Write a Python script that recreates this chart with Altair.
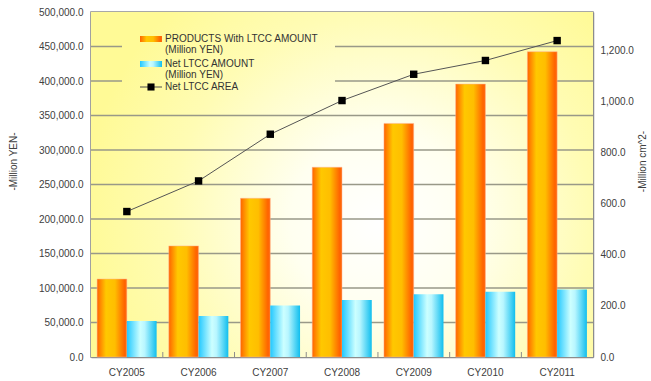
import altair as alt
import pandas as pd

# ---- data -------------------------------------------------------------
categories = ["CY2005", "CY2006", "CY2007", "CY2008", "CY2009", "CY2010", "CY2011"]
products_amount = [113000, 161000, 230000, 275000, 338500, 395500, 442500]   # Million YEN
net_ltcc_amount = [52000, 59500, 74500, 82500, 91000, 94500, 98000]          # Million YEN
net_ltcc_area = [570, 690, 873, 1005, 1108, 1162, 1240]                      # Million cm^2
yen_grid = [50000, 100000, 150000, 200000, 250000, 300000, 350000, 400000, 450000]
yen_ticks = [0, 50000, 100000, 150000, 200000, 250000, 300000, 350000, 400000, 450000, 500000]
area_ticks = [0, 200, 400, 600, 800, 1000, 1200]
tick_cats = categories[1:]

bars = pd.DataFrame({
    "cat": categories * 2,
    "series": ["P"] * len(categories) + ["N"] * len(categories),
    "value": products_amount + net_ltcc_amount,
})
area = pd.DataFrame({"cat": categories, "area": net_ltcc_area})
grid = pd.DataFrame({"v": yen_grid})
ticks = pd.DataFrame({"cat": tick_cats})
one = alt.Data(values=[{"k": 0}])

# ---- layout / style ---------------------------------------------------
W, H = 502, 345
FONT = "Liberation Sans"
TXT = "#404040"
GRID = "#999988"
PAD_IN = 0.17

# radial background: centre and radius in plot pixels
GX, GY, GR = 290, 210, 300
bg_stops = [
    alt.GradientStop(offset=0, color="#ffffff"),
    alt.GradientStop(offset=0.3, color="#fffff0"),
    alt.GradientStop(offset=0.7, color="#fffcb4"),
    alt.GradientStop(offset=1, color="#fffa96"),
]


def radial_fill(bx, by, bw, bh):
    s = max(bw, bh)
    ox = bx + bw / 2 - s / 2
    oy = by + bh / 2 - s / 2
    cx, cy = (GX - ox) / s, (GY - oy) / s
    return alt.RadialGradient(gradient="radial", stops=bg_stops,
                              x1=cx, y1=cy, r1=0, x2=cx, y2=cy, r2=GR / s)


orange_fill = alt.LinearGradient(
    gradient="linear", x1=0, x2=1, y1=0, y2=0,
    stops=[alt.GradientStop(offset=0, color="#ff6400"),
           alt.GradientStop(offset=0.3, color="#ffc800"),
           alt.GradientStop(offset=0.6, color="#ffbe00"),
           alt.GradientStop(offset=0.92, color="#ff6400"),
           alt.GradientStop(offset=1, color="#ff6a10")])
blue_fill = alt.LinearGradient(
    gradient="linear", x1=0, x2=1, y1=0, y2=0,
    stops=[alt.GradientStop(offset=0, color="#22c8ff"),
           alt.GradientStop(offset=0.45, color="#ccffff"),
           alt.GradientStop(offset=0.6, color="#b8f6ff"),
           alt.GradientStop(offset=1, color="#10beee")])

x_scale = alt.Scale(domain=categories, paddingInner=PAD_IN, paddingOuter=PAD_IN / 2)
x_axis = alt.Axis(title=None, labelAngle=0, ticks=False, labelPadding=10,
                  labelFont=FONT, labelFontSize=10, labelColor=TXT,
                  domainColor="#8c8c8c", domainWidth=1.5)
x_enc = alt.X("cat:N", scale=x_scale, axis=x_axis)

yen_scale = alt.Scale(domain=[0, 500000], nice=False, zero=True)
yen_axis = alt.Axis(title="-Million YEN-", values=yen_ticks, format=",.1f",
                    grid=False, ticks=False, labelPadding=8,
                    labelFont=FONT, labelFontSize=10, labelColor=TXT,
                    domainColor="#8c8c8c", domainWidth=1.5,
                    titleFont=FONT, titleFontSize=10, titleFontWeight="normal",
                    titleColor=TXT, titleAngle=270, titleAlign="center",
                    titleBaseline="middle", titleX=-78, titleY=149)

area_scale = alt.Scale(domain=[0, 1352], nice=False, zero=True)
area_axis = alt.Axis(title="-Million cm^2-", orient="right", values=area_ticks,
                     format=",.1f", grid=False, ticks=False, labelPadding=7,
                     labelFont=FONT, labelFontSize=10, labelColor=TXT,
                     domainColor="#8c8c8c", domainWidth=1.5,
                     titleFont=FONT, titleFontSize=10, titleFontWeight="normal",
                     titleColor=TXT, titleAngle=270, titleAlign="center",
                     titleBaseline="middle", titleX=49, titleY=149)

# ---- plot background and grid -----------------------------------------
background = alt.Chart(one).mark_rect(fill=radial_fill(0, 0, W, H)).encode(
    x=alt.value(0), x2=alt.value(W), y=alt.value(0), y2=alt.value(H))

grid_rules = alt.Chart(grid).mark_rule(color=GRID, strokeWidth=1.5).encode(
    y=alt.Y("v:Q", scale=yen_scale, axis=yen_axis))

inner_ticks = alt.Chart(ticks).mark_rule(
    color="#8c8c8c", strokeWidth=1, xOffset=-6).encode(
    x=alt.X("cat:N", scale=x_scale, axis=x_axis, bandPosition=0),
    y=alt.value(H - 5), y2=alt.value(H))

# ---- legend box ---------------------------------------------------------
LBX, LBY, LBW, LBH = 31, 16, 213, 69
legend_bg = alt.Chart(one).mark_rect(fill=radial_fill(LBX, LBY, LBW, LBH)).encode(
    x=alt.value(LBX), x2=alt.value(LBX + LBW), y=alt.value(LBY), y2=alt.value(LBY + LBH))


def legend_text(txt, x, y):
    return alt.Chart(one).mark_text(
        align="left", baseline="middle", font=FONT, fontSize=10, color="#333333"
    ).encode(x=alt.value(x), y=alt.value(y), text=alt.value(txt))


sw_orange = alt.Chart(one).mark_rect(fill=orange_fill).encode(
    x=alt.value(49), x2=alt.value(71), y=alt.value(24), y2=alt.value(30))
sw_blue = alt.Chart(one).mark_rect(fill=blue_fill).encode(
    x=alt.value(49), x2=alt.value(71), y=alt.value(49), y2=alt.value(55))
sw_line = alt.Chart(one).mark_rule(color="#4d4d4d", strokeWidth=1).encode(
    x=alt.value(49), x2=alt.value(71), y=alt.value(75))
sw_point = alt.Chart(one).mark_point(
    shape="square", filled=True, color="black", opacity=1, size=50).encode(
    x=alt.value(60), y=alt.value(75))

legend = [
    legend_bg, sw_orange, sw_blue, sw_line, sw_point,
    legend_text("PRODUCTS With LTCC AMOUNT", 74, 27),
    legend_text("(Million YEN)", 74, 38),
    legend_text("Net LTCC AMOUNT", 74, 52),
    legend_text("(Million YEN)", 74, 63),
    legend_text("Net LTCC AREA", 74, 75),
]

# ---- bars ---------------------------------------------------------------
offset = alt.XOffset("series:N", scale=alt.Scale(domain=["P", "N"]))
y_bar = alt.Y("value:Q", scale=yen_scale, axis=yen_axis)

orange_bars = alt.Chart(bars).transform_filter(alt.datum.series == "P").mark_bar(
    fill=orange_fill, stroke="#ffb090", strokeWidth=0.5).encode(
    x=x_enc, xOffset=offset, y=y_bar)
blue_bars = alt.Chart(bars).transform_filter(alt.datum.series == "N").mark_bar(
    fill=blue_fill).encode(x=x_enc, xOffset=offset, y=y_bar)

left = alt.layer(background, grid_rules, inner_ticks, *legend, orange_bars, blue_bars)

# ---- area line (right axis) --------------------------------------------
y_area = alt.Y("area:Q", scale=area_scale, axis=area_axis)
area_line = alt.Chart(area).mark_line(color="#555555", strokeWidth=1).encode(
    x=x_enc, y=y_area)
area_points = alt.Chart(area).mark_point(
    shape="square", filled=True, color="black", opacity=1, size=55).encode(
    x=x_enc, y=y_area)
right = alt.layer(area_line, area_points)

chart = alt.layer(left, right).resolve_scale(y="independent").properties(
    width=W, height=H,
    padding={"left": 91, "top": 12, "right": 58, "bottom": 24},
    autosize=alt.AutoSizeParams(type="none"),
    background="white",
).configure_view(stroke="#8c8c8c", strokeWidth=1.5)

chart.save("out.html", embed_options={"renderer": "svg", "actions": False})
